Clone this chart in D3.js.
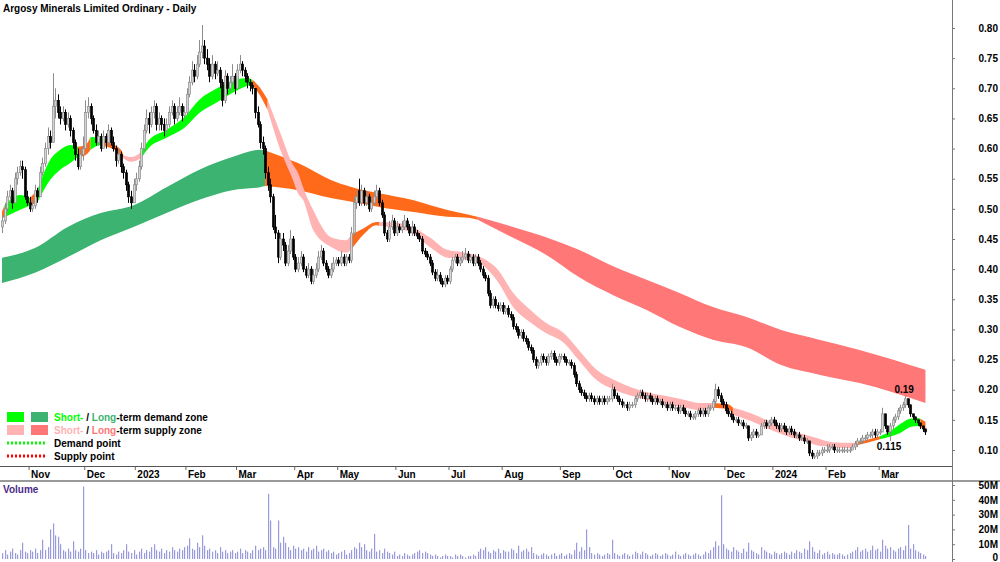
<!DOCTYPE html>
<html>
<head>
<meta charset="utf-8">
<script src="https://cdn.jsdelivr.net/npm/d3@7"></script>
<style>
  body { margin: 0; background: #fff; }
  svg { display: block; font-family: "Liberation Sans", Arial, sans-serif; }
</style>
</head>
<body>
<div id="chart"></div>
<script>
// Argosy Minerals (AGY) daily, Oct 2022 - Mar 2024, prices in cents

const title = "Argosy Minerals Limited Ordinary - Daily";
const priceTicks = [0.10, 0.15, 0.20, 0.25, 0.30, 0.35, 0.40, 0.45, 0.50, 0.55, 0.60, 0.65, 0.70, 0.75, 0.80];
const volumeTicks = [0, 10, 20, 30, 40, 50];
const monthLabels = ["Nov", "Dec", "2023", "Feb", "Mar", "Apr", "May", "Jun", "Jul", "Aug", "Sep", "Oct", "Nov", "Dec", "2024", "Feb", "Mar"];
// index of the first trading day of each month
const monthStarts = [11, 33, 53, 73, 93, 116, 133, 156, 177, 198, 221, 242, 264, 286, 305, 326, 347];

// [open, high, low, close] in cents, one per trading day
const candles = [
  [47,49,46,48],[48,51,47.5,50],[50,53,49.5,52],[52,54,51,53],[53,53.5,50,51],[51,56,51,55],[55,57,54,56],[56,58,55.5,57],[57,58,55,56.5],[56.5,57,51.5,52],
  [52,53,50.5,51],[51,52,49.5,50],[50,51.5,49.5,50.5],[50.5,54,50,53],[53,53.5,51,52],[52,57,52,56],[56,58.5,55.5,57.5],[57.5,61,57,60],[60,63.5,59,62],[62,63,60,61],
  [61,72.5,61,67],[67,70,65,68],[68,69,65,66],[66,67,64,65],[65,67,64.5,66],[66,66.5,63,64],[64,66,63.5,65],[65,65.5,62,63],[63,63.5,60,61],[61,61.5,58,59],
  [59,60,56.5,57],[57,60,56.5,59],[59,62,58,60],[60,68,60,66],[66,68.5,65,67],[67,67.5,64,65],[65,65.5,62.5,63],[63,64,60.5,61],[61,63,60.5,62],[62,62.5,59.5,60],
  [60,63,60,62],[62,62.5,60,61],[61,64,60.5,63],[63,63.5,60.5,61],[61,62,59.5,60],[60,60.5,57,58],[58,60,57.5,59],[59,59.5,56,57],[57,57.5,55,56],[56,56.5,53,54],
  [54,54.5,51,52],[52,53,50,51],[51,55,51,54],[54,56,53,55],[55,58,54.5,57],[57,61,56.5,60],[60,64,59.5,63],[63,66.5,62.5,65],[65,66,62.5,64],[64,67,63.5,66],
  [66,68,65,67],[67,67.5,63,64],[64,66,63,65],[65,65.5,63,64],[64,65,62,63],[63,65,62.5,64],[64,67,63.5,66],[66,68,65.5,67],[67,67.5,64,65],[65,67,64.5,66],
  [66,68.5,65.5,67],[67,67.5,64.5,65.5],[65.5,67,65,66],[66,70,65.5,69],[69,72,68.5,71],[71,74.5,70.5,73],[73,74,71,72],[72,75.5,71.5,74],[74,78,73.5,76],[76,80.5,75,77],
  [77,78,74,75],[75,76.5,73,74],[74,75,71,72],[72,75.5,71.5,74],[74,74.5,71.5,72.5],[72.5,74.5,72,73],[73,73.5,70,71],[71,71.5,67,68],[68,73,67.5,72],[72,72.5,69,70],
  [70,72,69.5,71],[71,74,70.5,72],[72,72.5,69,70],[70,74,70,73],[73,75.5,72.5,74],[74,74.5,72,73],[73,73.5,71,72],[72,72.5,70,71],[71,71.5,69.5,70.5],[70.5,71,69,70],
  [70,70,65,66],[66,67,63.5,64],[64,64.5,60,61],[61,62,59,60],[60,60.5,55,56],[56,57,53,54],[54,55,51,52],[52,52.5,46.5,47],[47,49,45,46],[46,46.5,41,42],
  [42,46,41.5,45],[45,46,43,44],[44,44.5,40.5,41],[41,44,40.5,43],[43,46.5,42.5,45],[45,45.5,41.5,42],[42,42.5,39.5,40],[40,42,39.5,41],[41,43,40.5,42],[42,42.5,39.5,40],
  [40,40.5,38.5,39],[39,41,38.5,40],[40,40.5,37.5,38],[38,40,37.5,39],[39,41,38.5,40],[40,43,39.5,42],[42,44,41.5,43],[43,43.5,40.5,41],[41,41.5,39.5,40],[40,40.5,38.5,39],
  [39,41,38.5,40],[40,42,39.5,41],[41,42,40.5,41.5],[41.5,42,40.5,41],[41,43,40.5,42],[42,42.5,40.5,41],[41,42.5,40.5,42],[42,42.5,41,41.5],[41.5,47,41,46],[46,52,45.5,51],
  [51,53,50,52],[53,55,50.5,51],[51,54,50.5,53],[53,53.5,50.5,51],[51,53,50.5,52],[52,52.5,49.5,50],[50,52,49.5,51],[51,53,50.5,52],[52,54,51.5,53],[53,53.5,50.5,51],
  [51,51.5,48.5,49],[49,49.5,45.5,46],[46,46.5,44.5,45],[45,48,44.5,47],[47,49,46.5,48],[48,48.5,45.5,46],[46,48,45.5,47],[47,47.5,46,46.5],[46.5,48,46,47],[47,49,46.5,48],
  [48,48.5,46.5,47],[47,47.5,45.5,46],[46,48,45.5,47],[47,47.5,45.5,46],[46,46.5,45,45.5],[45.5,46,44.5,45],[45,45.5,42.5,43],[43,43.5,42,42.5],[42.5,43,41.5,42],[42,42.5,40.5,41],
  [41,41.5,39,39.5],[39.5,40,38,38.5],[38.5,40,38,39],[39,39.5,37.5,38],[38,38.5,37,37.5],[37.5,39,37,38.5],[38.5,39,37.5,38],[38,40.5,37.5,40],[40,42,39.5,41.5],[41.5,42.5,41,42],
  [42,42.5,40.5,41],[41,42,40.5,41.5],[41.5,43,41,42],[42,43.5,41.5,42.5],[42.5,43,41,41.5],[41.5,42.5,41,42],[42,42.5,40.5,41],[41,42.5,40.5,42],[42,42.5,40.5,41],[41,41.5,39.5,40],
  [40,40.5,38.5,39],[39,39.5,38,38.5],[38.5,39,35.5,36],[36,36.5,33.5,34],[34,35.5,33.5,35],[35,35.5,33.5,34],[34,34.5,33,33.5],[33.5,34.5,33,34],[34,34.5,32.5,33],[33,34,32.5,33.5],
  [33.5,34,32,32.5],[32.5,33,31.5,32],[32,32.5,30,30.5],[30.5,31,29.5,30],[30,30.5,28.5,29],[29,30,28.5,29.5],[29.5,30,28,28.5],[28.5,29,27.5,28],[28,28.5,26.5,27],[27,27.5,26,26.5],
  [26.5,27,24.5,25],[25,25.5,23.5,24],[24,25,23.5,24.5],[24.5,26,24,25.5],[25.5,26,24.5,25],[25,25.5,24,24.5],[24.5,26,24,25.5],[25.5,26.5,25,26],[26,26.5,24.5,25],[25,25.5,24,24.5],
  [24.5,26,24,25.5],[25.5,26,25,25.5],[25.5,26,24.5,25],[25,25.5,24,24.5],[24.5,25,24,24.5],[24.5,25,23.5,24],[24,24.5,22,22.5],[22.5,23,20.5,21],[21,21.5,19.5,20],[20,20.5,19,19.5],
  [19.5,20,18.5,19],[19,19.5,18,18.5],[18.5,19.5,18,19],[19,19.5,18,18.5],[18.5,19,17.5,18],[18,19,17.5,18.5],[18.5,19,17.5,18],[18,19,17.5,18.5],[18.5,19,17.5,18],[18,19,17.5,18.5],
  [18.5,19,18,18.5],[18.5,21,18,20],[20,20.5,18.5,19],[19,19.5,18,18.5],[18.5,19,17.5,18],[18,18.5,17,17.5],[17.5,18,17,17.5],[17.5,18,16.5,17],[17,18,16.5,17.5],[17.5,18,17,17.5],
  [17.5,19,17,18.5],[18.5,19.5,18,19],[19,20,18.5,19.5],[19.5,20,18.5,19],[19,19.5,18,18.5],[18.5,19.5,18,19],[19,19.5,18,18.5],[18.5,19,17.5,18],[18,19,17.5,18.5],[18.5,19,17.5,18],
  [18,18.5,17.5,18],[18,18.5,17,17.5],[17.5,18,17,17.5],[17.5,18,16.5,17],[17,18,16.5,17.5],[17.5,18,16.5,17],[17,17.5,16.5,17],[17,17.5,16,16.5],[16.5,17.5,16,17],[17,17.5,16,16.5],
  [16.5,17,15.5,16],[16,16.5,15.5,16],[16,16.5,15,15.5],[15.5,16,15,15.5],[15.5,16.5,15,16],[16,17,15.5,16.5],[16.5,17,15.5,16],[16,17,15.5,16.5],[16.5,17,15.5,16],[16,17.5,15.5,17],
  [17,17.5,16.5,17],[17,18.5,16.5,18],[18,21,17.5,20],[20,20.5,18.5,19],[19,19.5,17.5,18],[18,18.5,17,17.5],[17.5,18,16,16.5],[16.5,17,15.5,16],[16,16.5,15,15.5],[15.5,16,14.5,15],
  [15,15.5,14.5,15],[15,15.5,14,14.5],[14.5,15,14,14.5],[14.5,15,13.5,14],[14,14.5,13.5,14],[14,14,11.5,12],[12,13,11.5,12.5],[12.5,13.5,12,13],[13,13.5,12,12.5],[12.5,13,12,12.5],
  [12.5,14.5,12.5,14],[14,15,13.5,14.5],[14.5,15,13.5,14],[14,15,13.5,14.5],[14.5,15.5,14,15],[15,15.5,14,14.5],[14.5,15,13.5,14],[14,14.5,13,13.5],[13.5,14.5,13,14],[14,14.5,13,13.5],
  [13.5,14,12.5,13],[13,14,12.5,13.5],[13.5,14,12.5,13],[13,13.5,12,12.5],[12.5,13,12,12.5],[12.5,13,11.5,12],[12,12.5,11.5,12],[12,12.5,11,11.5],[11.5,12,11,11.5],[11.5,11.5,9,9.5],
  [9.5,10,8.5,9],[9,9.5,8.5,9],[9,10,8.5,9.5],[9.5,10,9,9.5],[9.5,10.5,9,10],[10,10.5,9.5,10],[10,11,9.5,10],[10,11,9.5,10.5],[10.5,11,10,10.5],[10.5,11,9.5,10],
  [10,10.5,9.5,10],[10,10.5,9.5,10],[10,10.5,9.5,10],[10,10.5,9.5,10],[10,10.5,9.5,10],[10,10.5,9.5,10],[10,11,10,10.5],[10.5,11.5,10,11],[11,12,10.5,11.5],[11.5,12,11,11.5],
  [11.5,12.5,11,12],[12,12.5,11.5,12],[12,13,11.5,12.5],[12.5,13,12,12.5],[12.5,13.5,12,13],[13,13.5,12,12.5],[12.5,13.5,12,13],[13,13.5,12.5,13],[13,17,13,16],[16,16,13.5,14],
  [14,14,12.5,13],[13,14.5,11.5,14],[14,15.5,13.5,15],[15,16,14.5,15.5],[15.5,17,15,16.5],[16.5,17.5,16,17],[17,18,16.5,17.5],[17.5,19,17,18.5],[18.5,18.5,17,17.5],[17.5,17.5,15.5,16],
  [16,16,15,15.5],[15.5,15.5,14.5,15],[15,15,14,14.5],[14.5,14.5,13.5,14],[14,14,13,13.5],[13.5,13.5,12.5,13]
];

// daily volume, millions of shares
const volumes = [
  4,6,3,5,7,4,3,6,11,5, 4,6,5,7,4,6,13,6,8,20, 24,16,15,10,6,5,7,5,12,6, 5,7,49,6,4,5,4,6,3,5,
  4,5,6,10,4,3,5,4,6,10, 5,4,6,3,5,7,4,6,5,8, 10,6,5,7,4,6,5,8,6,5, 7,6,8,9,14,7,6,11,8,16,
  9,6,7,5,6,4,8,5,6,4, 5,6,4,5,7,4,6,5,4,6, 9,6,7,8,6,44,26,8,7,26, 11,15,11,8,6,9,7,8,6,7,
  5,8,6,7,9,5,6,7,5,6, 4,5,3,4,5,6,3,4,6,8, 7,11,8,10,6,5,7,17,5,6, 4,7,5,4,3,5,2,3,2,4,
  3,2,3,4,5,6,4,5,4,3, 2,3,2,1,2,3,2,2,1,3, 2,3,2,1,2,2,3,2,5,7, 6,8,5,4,6,5,7,4,6,5,
  5,7,6,4,9,5,6,7,5,8, 4,3,2,3,4,3,2,3,4,2, 3,4,2,3,4,3,6,11,5,8, 6,20,8,4,3,4,3,2,3,4,
  3,13,4,3,2,3,4,3,2,3, 5,4,3,5,4,3,2,3,4,3, 2,3,4,3,2,3,5,3,2,3, 4,3,2,3,4,3,2,3,5,4,
  6,8,12,9,43,10,7,6,5,8, 6,5,4,7,5,11,6,5,4,3, 8,6,5,4,3,5,4,3,4,5, 4,3,5,4,6,5,4,7,6,12,
  8,5,4,6,3,4,5,3,4,3, 3,4,3,2,3,4,5,6,8,5, 6,7,5,6,9,6,7,5,13,9, 7,8,6,5,7,8,6,9,23,7,
  10,6,5,4,3,2
];

// zone bands: [day index, upper price, lower price, zone]
// zone: d = demand, t = transition, s = supply
const shortBand = [
  [0,0.495,0.485,"t"],[1,0.506,0.486,"d"],[7,0.523,0.498,"d"],[11,0.518,0.505,"t"],[14,0.531,0.511,"d"],
  [19,0.581,0.548,"d"],[23,0.598,0.565,"d"],[27,0.606,0.576,"d"],[30,0.603,0.586,"t"],[33,0.606,0.589,"t"],
  [35,0.619,0.598,"d"],[39,0.618,0.606,"d"],[40,0.616,0.604,"t"],[43,0.609,0.601,"t"],[47,0.598,0.589,"t"],
  [48,0.589,0.584,"s"],[51,0.586,0.578,"s"],[55,0.594,0.584,"d"],[58,0.614,0.601,"d"],[65,0.631,0.618,"d"],
  [72,0.652,0.634,"d"],[78,0.681,0.659,"d"],[85,0.700,0.677,"d"],[91,0.712,0.692,"d"],[97,0.717,0.704,"d"],
  [99,0.714,0.706,"t"],[102,0.701,0.688,"t"],[105,0.681,0.664,"s"],[110,0.626,0.598,"s"],[115,0.573,0.548,"s"],
  [117,0.560,0.526,"s"],[119,0.536,0.515,"s"],[123,0.498,0.465,"s"],[130,0.453,0.437,"s"],[136,0.448,0.427,"s"],
  [138,0.457,0.432,"t"],[143,0.468,0.458,"t"],[148,0.478,0.473,"t"],[149,0.478,0.472,"s"],[156,0.477,0.468,"s"],
  [162,0.470,0.460,"s"],[169,0.453,0.437,"s"],[176,0.432,0.419,"s"],[182,0.428,0.417,"s"],[189,0.420,0.409,"s"],
  [196,0.399,0.379,"s"],[202,0.361,0.337,"s"],[209,0.332,0.311,"s"],[215,0.311,0.294,"s"],[222,0.294,0.278,"s"],
  [228,0.266,0.249,"s"],[235,0.233,0.216,"s"],[242,0.216,0.200,"s"],[248,0.205,0.191,"s"],[255,0.196,0.183,"s"],
  [262,0.190,0.176,"s"],[270,0.183,0.170,"s"],[276,0.178,0.166,"s"],[281,0.178,0.170,"t"],[287,0.176,0.168,"t"],
  [289,0.170,0.158,"s"],[296,0.161,0.148,"s"],[302,0.150,0.137,"s"],[309,0.138,0.125,"s"],[315,0.128,0.117,"s"],
  [322,0.120,0.108,"s"],[328,0.113,0.105,"s"],[335,0.112,0.103,"s"],[337,0.112,0.107,"t"],[342,0.117,0.112,"t"],
  [347,0.123,0.118,"d"],[351,0.131,0.122,"d"],[355,0.143,0.128,"d"],[359,0.152,0.138,"d"],[362,0.153,0.140,"d"],
  [363,0.152,0.138,"t"],[365,0.147,0.132,"t"]
];

const longBand = [
  [0,0.419,0.377,"d"],[13,0.435,0.394,"d"],[26,0.470,0.420,"d"],[39,0.493,0.448,"d"],[52,0.506,0.470,"d"],
  [65,0.536,0.493,"d"],[78,0.565,0.515,"d"],[91,0.586,0.531,"d"],[102,0.598,0.536,"d"],[104,0.597,0.538,"t"],
  [117,0.576,0.531,"t"],[130,0.548,0.518,"t"],[143,0.531,0.508,"t"],[149,0.526,0.503,"t"],[162,0.515,0.495,"t"],
  [176,0.498,0.487,"t"],[185,0.490,0.485,"t"],[188,0.487,0.482,"s"],[202,0.470,0.452,"s"],[215,0.453,0.424,"s"],
  [228,0.432,0.387,"s"],[242,0.404,0.356,"s"],[255,0.382,0.332,"s"],[268,0.360,0.304,"s"],[281,0.337,0.283,"s"],
  [294,0.321,0.271,"s"],[308,0.299,0.241,"s"],[323,0.283,0.225,"s"],[339,0.266,0.211,"s"],[365,0.233,0.178,"s"]
];

const peaks = [
  { day: 357, value: 0.19, label: "0.19", side: "above" },
  { day: 351, value: 0.115, label: "0.115", side: "below" }
];

const width = 1000;
const height = 562;
const axisX = 952;
const priceBottom = 466;
const dateBottom = 481;

const shortColor = { d: "#00ff00", t: "#ff6a1a", s: "#ffb3b3" };
const longColor = { d: "#3cb371", t: "#ff6a1a", s: "#ff7777" };

const svg = d3.select("#chart")
  .append("svg")
  .attr("width", width)
  .attr("height", height);

svg.append("rect")
  .attr("width", width)
  .attr("height", height)
  .attr("fill", "#fff");

const x = d3.scaleLinear()
  .domain([0, candles.length - 1])
  .range([2, 2 + 2.53 * (candles.length - 1)]);

const y = d3.scaleLinear()
  .domain([0.10, 0.80])
  .range([450, 28]);

const yv = d3.scaleLinear()
  .domain([0, 50])
  .range([559, 485]);

svg.append("clipPath")
  .attr("id", "priceClip")
  .append("rect")
  .attr("width", axisX)
  .attr("height", priceBottom);

const plot = svg.append("g").attr("clip-path", "url(#priceClip)");

// split a band into runs of the same zone, each run ending on the next sample
function zoneRuns(band){
  const runs = [];
  let start = 0;
  for(let k = 1; k <= band.length; k++){
    if(k === band.length || band[k][3] !== band[start][3]){
      runs.push({ zone: band[start][3], pts: band.slice(start, Math.min(k + 1, band.length)) });
      start = k;
    }
  }
  return runs;
}

const area = d3.area()
  .x(d => x(d[0]))
  .y0(d => y(d[2]))
  .y1(d => y(d[1]))
  .curve(d3.curveMonotoneX);

plot.selectAll(".long-zone")
  .data(zoneRuns(longBand))
  .enter()
  .append("path")
  .attr("class", "long-zone")
  .attr("d", d => area(d.pts))
  .attr("fill", d => longColor[d.zone]);

plot.selectAll(".short-zone")
  .data(zoneRuns(shortBand))
  .enter()
  .append("path")
  .attr("class", "short-zone")
  .attr("d", d => area(d.pts))
  .attr("fill", d => shortColor[d.zone]);

// candles
const candle = plot.selectAll(".candle")
  .data(candles)
  .enter()
  .append("g")
  .attr("class", "candle");

candle.append("line")
  .attr("x1", (d, i) => Math.round(x(i)) + 0.5)
  .attr("x2", (d, i) => Math.round(x(i)) + 0.5)
  .attr("y1", d => y(d[1] / 100))
  .attr("y2", d => y(d[2] / 100))
  .attr("stroke", d => d[3] >= d[0] ? "#8c8c8c" : "#000")
  .attr("stroke-width", 1);

candle.append("rect")
  .attr("x", (d, i) => Math.round(x(i)) - 0.5)
  .attr("y", d => y(Math.max(d[0], d[3]) / 100))
  .attr("width", 2)
  .attr("height", d => Math.max(1, y(Math.min(d[0], d[3]) / 100) - y(Math.max(d[0], d[3]) / 100)))
  .attr("fill", d => d[3] >= d[0] ? "#d4d4d4" : "#000")
  .attr("stroke", d => d[3] >= d[0] ? "#8c8c8c" : "#000")
  .attr("stroke-width", 0.7);

// high / low labels
svg.selectAll(".peak")
  .data(peaks)
  .enter()
  .append("text")
  .attr("x", d => x(d.day) - 1)
  .attr("y", d => d.side === "above" ? y(d.value) - 3 : y(d.value) + 9)
  .attr("text-anchor", "middle")
  .style("font-size", "10px")
  .style("font-weight", "bold")
  .text(d => d.label);

// title
svg.append("text")
  .attr("x", 3)
  .attr("y", 12)
  .style("font-size", "10px")
  .style("font-weight", "bold")
  .text(title);

// legend
const legendRows = [
  { a: shortColor.d, b: longColor.d, lead: "Short-", tail: "-term demand zone" },
  { a: shortColor.s, b: longColor.s, lead: "Short-", tail: "-term supply zone" }
];

legendRows.forEach((r, k) => {
  const ly = 412 + k * 13;
  svg.append("rect").attr("x", 7).attr("y", ly).attr("width", 17).attr("height", 10).attr("fill", r.a);
  svg.append("rect").attr("x", 31).attr("y", ly).attr("width", 17).attr("height", 10).attr("fill", r.b);
  const t = svg.append("text")
    .attr("x", 54)
    .attr("y", ly + 9)
    .style("font-size", "10px")
    .style("font-weight", "bold");
  t.append("tspan").attr("fill", r.a).text(r.lead);
  t.append("tspan").attr("fill", "#000").text(" / ");
  t.append("tspan").attr("fill", r.b).text("Long");
  t.append("tspan").attr("fill", "#000").text(r.tail);
});

[{ c: "#00ff00", label: "Demand point" }, { c: "#ff0000", label: "Supply point" }].forEach((r, k) => {
  const ly = 443 + k * 13;
  svg.append("line")
    .attr("x1", 7).attr("x2", 45)
    .attr("y1", ly).attr("y2", ly)
    .attr("stroke", r.c)
    .attr("stroke-width", 3)
    .attr("stroke-dasharray", "2,2");
  svg.append("text")
    .attr("x", 54)
    .attr("y", ly + 4)
    .style("font-size", "10px")
    .style("font-weight", "bold")
    .text(r.label);
});

// date strip
const dateAxis = svg.append("g")
  .attr("transform", `translate(0,${priceBottom})`)
  .call(d3.axisBottom(x)
    .tickValues(monthStarts.map(d => d - 0.5))
    .tickFormat((d, k) => monthLabels[k])
    .tickSize(4));

dateAxis.select(".domain").remove();
dateAxis.selectAll("line").attr("stroke", "#666");
dateAxis.selectAll("text")
  .attr("x", 2)
  .attr("y", 12)
  .attr("dy", 0)
  .attr("text-anchor", "start")
  .attr("fill", "#000")
  .style("font-size", "10px")
  .style("font-weight", "bold")
  .style("font-family", "\"Liberation Sans\", Arial, sans-serif");

svg.append("line")
  .attr("x1", 0).attr("x2", axisX)
  .attr("y1", priceBottom + 0.5).attr("y2", priceBottom + 0.5)
  .attr("stroke", "#555");

svg.append("line")
  .attr("x1", 0).attr("x2", width)
  .attr("y1", dateBottom).attr("y2", dateBottom)
  .attr("stroke", "#999")
  .attr("stroke-width", 2);

// volume
svg.selectAll(".vol")
  .data(volumes)
  .enter()
  .append("rect")
  .attr("class", "vol")
  .attr("x", (d, i) => Math.round(x(i)))
  .attr("y", d => yv(d))
  .attr("width", 1.2)
  .attr("height", d => yv(0) - yv(d))
  .attr("fill", "#9999dd");

svg.append("text")
  .attr("x", 3)
  .attr("y", 493)
  .attr("fill", "#4b2a8c")
  .style("font-size", "10px")
  .style("font-weight", "bold")
  .text("Volume");

// right axes
svg.append("line")
  .attr("x1", axisX + 0.5).attr("x2", axisX + 0.5)
  .attr("y1", 0).attr("y2", height)
  .attr("stroke", "#777");

function styleAxis(g){
  g.select(".domain").remove();
  g.selectAll("line").attr("stroke", "#777");
  g.selectAll("text")
    .attr("x", 46)
    .attr("text-anchor", "end")
    .attr("fill", "#000")
    .style("font-size", "10px")
    .style("font-weight", "bold")
    .style("font-family", "\"Liberation Sans\", Arial, sans-serif");
}

svg.append("g")
  .attr("transform", `translate(${axisX},0)`)
  .call(d3.axisRight(y).tickValues(priceTicks).tickSize(3).tickFormat(d3.format(".2f")))
  .call(styleAxis);

const volAxis = svg.append("g")
  .attr("transform", `translate(${axisX},0)`)
  .call(d3.axisRight(yv).tickValues(volumeTicks).tickSize(3).tickFormat(d => d ? d + "M" : "0"))
  .call(styleAxis);

// keep the zero label inside the picture
volAxis.selectAll(".tick text")
  .filter(d => d === 0)
  .attr("y", -2);
</script>
</body>
</html>
